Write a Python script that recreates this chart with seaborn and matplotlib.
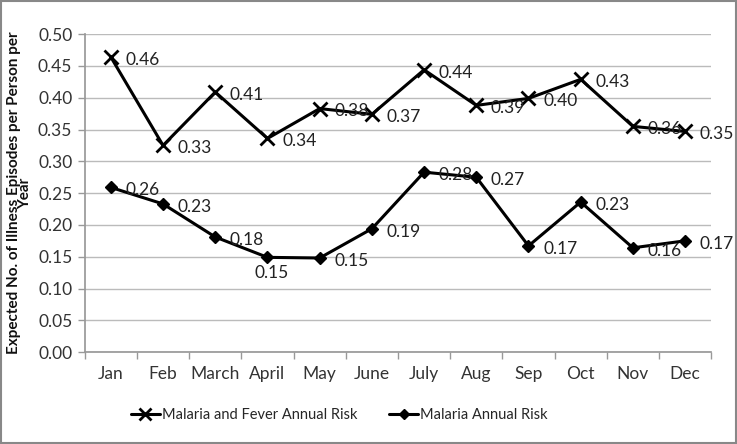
import matplotlib
matplotlib.use("Agg")
import matplotlib.pyplot as plt
import seaborn as sns
import pandas as pd

months = ["Jan", "Feb", "March", "April", "May", "June", "July", "Aug", "Sep", "Oct", "Nov", "Dec"]
fever_risk = [0.464, 0.325, 0.409, 0.336, 0.383, 0.374, 0.444, 0.388, 0.399, 0.429, 0.355, 0.347]
malaria_risk = [0.259, 0.233, 0.181, 0.149, 0.148, 0.194, 0.283, 0.275, 0.167, 0.236, 0.164, 0.175]
fever_labels = ["0.46", "0.33", "0.41", "0.34", "0.38", "0.37", "0.44", "0.39", "0.40", "0.43", "0.36", "0.35"]
malaria_labels = ["0.26", "0.23", "0.18", "0.15", "0.15", "0.19", "0.28", "0.27", "0.17", "0.23", "0.16", "0.17"]
series_names = ["Malaria and Fever Annual Risk", "Malaria Annual Risk"]
yticks = [0.00, 0.05, 0.10, 0.15, 0.20, 0.25, 0.30, 0.35, 0.40, 0.45, 0.50]

sns.set_theme(style="white")
plt.rcParams["font.family"] = ["Lato", "DejaVu Sans"]

pos = list(range(len(months)))
df_fever = pd.DataFrame({"pos": pos, "Risk": fever_risk})
df_malaria = pd.DataFrame({"pos": pos, "Risk": malaria_risk})

fig = plt.figure(figsize=(7.37, 4.44), dpi=100)
ax = fig.add_axes([0.115, 0.207, 0.85, 0.716])

sns.lineplot(data=df_fever, x="pos", y="Risk", color="black", marker="x",
             linewidth=2.2, markersize=10, markeredgewidth=2.0,
             markeredgecolor="black", ax=ax)
sns.lineplot(data=df_malaria, x="pos", y="Risk", color="black", marker="D",
             linewidth=2.2, markersize=6, markeredgewidth=1.0,
             markeredgecolor="black", ax=ax)

fs = 12.5
# data labels
for i, (v, t) in enumerate(zip(fever_risk, fever_labels)):
    ax.annotate(t, (i, v), xytext=(10.5, -2), textcoords="offset points",
                ha="left", va="center", fontsize=fs, color="#222222")
for i, (v, t) in enumerate(zip(malaria_risk, malaria_labels)):
    if i == 3:
        ax.annotate(t, (i, v), xytext=(3, -11), textcoords="offset points",
                    ha="center", va="center", fontsize=fs, color="#222222")
    else:
        ax.annotate(t, (i, v), xytext=(10.5, -2), textcoords="offset points",
                    ha="left", va="center", fontsize=fs, color="#222222")

ax.set_xlim(-0.5, len(months) - 0.5)
ax.set_ylim(0, 0.5)
ax.set_yticks(yticks)
ax.set_yticklabels([f"{v:.2f}" for v in yticks], fontsize=fs, color="#333333")
ax.set_xticks(pos)
ax.set_xticklabels(months, fontsize=fs, color="#333333")
ax.set_xticks([i - 0.5 for i in range(len(months) + 1)], minor=True)
ax.tick_params(axis="x", which="major", length=0, pad=10)
ax.tick_params(axis="x", which="minor", length=5, color="#999999", width=1, bottom=True)
ax.tick_params(axis="y", length=5, color="#999999", width=1, left=True, pad=4)
ax.grid(axis="y", color="#bbbbbb", linewidth=1)
ax.set_axisbelow(True)
for s in ["top", "right"]:
    ax.spines[s].set_visible(False)
ax.spines["left"].set_color("#999999")
ax.spines["bottom"].set_color("#999999")
ax.set_xlabel("")
ax.set_ylabel("Expected No. of Illness Episodes per Person per\nYear", fontsize=11,
              fontweight="bold", color="#111111", linespacing=0.8, labelpad=4)

handles = [plt.Line2D([], [], color="black", lw=2.2, marker="x", markersize=8, markeredgewidth=2),
           plt.Line2D([], [], color="black", lw=2.2, marker="D", markersize=5)]
fig.legend(handles, series_names, loc="center", bbox_to_anchor=(0.46, 0.065), ncol=2,
           frameon=False, fontsize=10.5, handlelength=2.0, handletextpad=0.1, columnspacing=2.2)

border = plt.Rectangle((0.002, 0.003), 0.996, 0.994, transform=fig.transFigure,
                       fill=False, edgecolor="#888888", linewidth=1.5)
fig.patches.append(border)

fig.savefig("out.png", dpi=100)
